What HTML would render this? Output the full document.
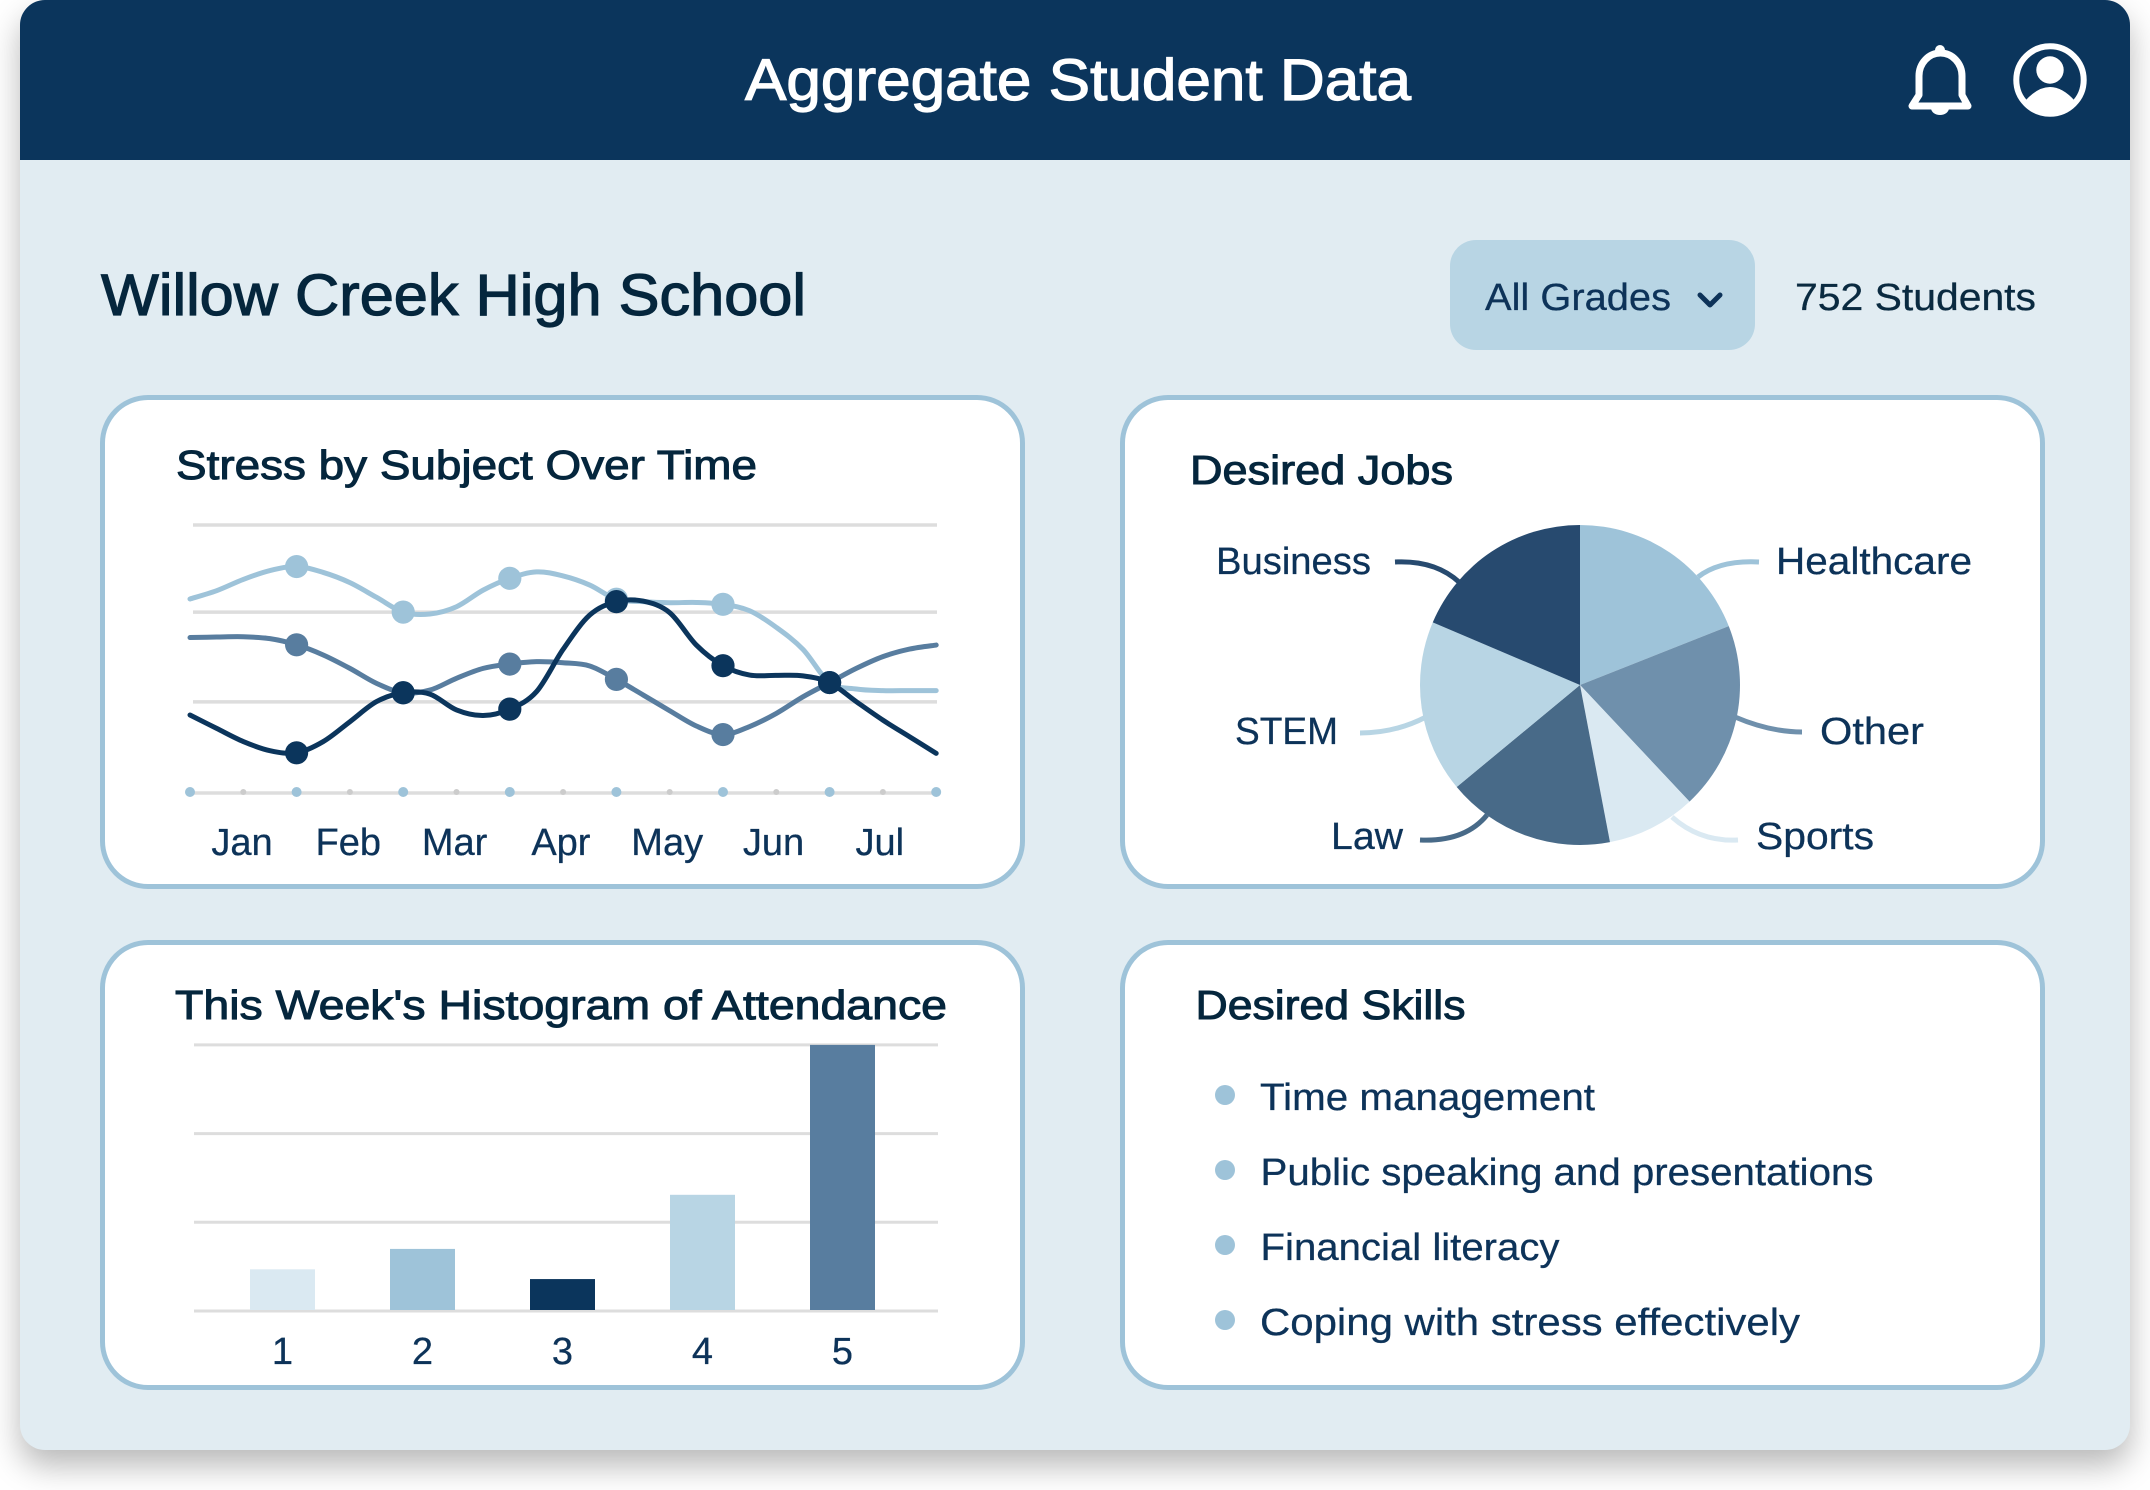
<!DOCTYPE html>
<html lang="en">
<head>
<meta charset="utf-8">
<title>Aggregate Student Data</title>
<style>
  html,body{margin:0;padding:0;background:#fff;width:2150px;height:1490px;overflow:hidden;}
  #stage{position:relative;width:2150px;height:1490px;font-family:"Liberation Sans",sans-serif;}
  .box{position:absolute;box-sizing:border-box;}
  #panel{left:20px;top:0;width:2110px;height:1450px;background:#E1ECF2;border-radius:25px;box-shadow:0 16px 32px rgba(0,0,0,.28);}
  #header{left:20px;top:0;width:2110px;height:160px;background:#0B355C;border-radius:25px 25px 0 0;}
  #grade-btn{left:1450px;top:240px;width:305px;height:110px;background:#B8D5E4;border-radius:26px;}
  .card{background:#fff;border:5px solid #9EC3D9;border-radius:48px;}
  svg{position:absolute;left:0;top:0;}
  text{font-family:"Liberation Sans",sans-serif;}
  .title{font-size:41px;fill:#05263D;stroke:#05263D;stroke-width:1px;}
  .big{font-size:58px;stroke-width:1.2px;}
  .lbl{font-size:38px;fill:#0D3359;stroke:#0D3359;stroke-width:.3px;}
</style>
</head>
<body>
<div id="stage">
  <div class="box" id="panel"></div>
  <div class="box" id="header"></div>
  <div class="box" id="grade-btn"></div>
  <div class="box card" style="left:100px;top:395px;width:925px;height:494px"></div>
  <div class="box card" style="left:1120px;top:395px;width:925px;height:494px"></div>
  <div class="box card" style="left:100px;top:940px;width:925px;height:450px"></div>
  <div class="box card" style="left:1120px;top:940px;width:925px;height:450px"></div>

  <svg id="art" width="2150" height="1490" viewBox="0 0 2150 1490" xmlns="http://www.w3.org/2000/svg">
    <text x="745" y="100" class="title big" style="fill:#fff;stroke:#fff" textLength="666" lengthAdjust="spacingAndGlyphs">Aggregate Student Data</text>

    <g>
      <circle cx="1940" cy="50" r="5" fill="#fff"/>
      <path d="M1912 106 H1968 L1962 95 V76 A21.5 23 0 0 0 1919 76 V95 Z" fill="none" stroke="#fff" stroke-width="7" stroke-linejoin="round"/>
      <path d="M1931 108 H1949 A9 7 0 0 1 1931 108 Z" fill="#fff"/>
    </g>
    <g>
      <circle cx="2050" cy="80" r="33.7" fill="none" stroke="#fff" stroke-width="6"/>
      <circle cx="2050" cy="70" r="13.7" fill="#fff"/>
      <path d="M2025 101 Q2050 73 2075 101 A33.7 33.7 0 0 1 2025 101 Z" fill="#fff"/>
    </g>

    <text x="101" y="315" class="title big" textLength="705" lengthAdjust="spacingAndGlyphs">Willow Creek High School</text>
    <text x="1485" y="310" class="lbl" textLength="186" lengthAdjust="spacingAndGlyphs">All Grades</text>
    <path d="M1700 295 L1710 305 L1720 295" fill="none" stroke="#0D3359" stroke-width="5" stroke-linecap="round" stroke-linejoin="round"/>
    <text x="1795" y="310" class="lbl" style="fill:#0A2A40;stroke:#0A2A40" textLength="241" lengthAdjust="spacingAndGlyphs">752 Students</text>

    <text x="176" y="479" class="title" textLength="581" lengthAdjust="spacingAndGlyphs">Stress by Subject Over Time</text>
    <g id="stress-chart"></g>

    <text x="1190" y="484" class="title" textLength="263" lengthAdjust="spacingAndGlyphs">Desired Jobs</text>
    <g fill="none" stroke-width="5">
      <path d="M1698 577 Q1720 560 1759 562" stroke="#9EC3D9"/>
      <path d="M1735 717 Q1770 732 1802 732" stroke="#6F90AC"/>
      <path d="M1672 817 Q1700 842 1738 840" stroke="#DAE9F2"/>
      <path d="M1487 815 Q1465 842 1420 840" stroke="#486A88"/>
      <path d="M1426 717 Q1395 733 1360 733" stroke="#B8D5E4"/>
      <path d="M1459 582 Q1435 560 1395 562" stroke="#274A6F"/>
    </g>
    <g id="pie-chart"></g>
    <text x="1216" y="574" class="lbl" textLength="155" lengthAdjust="spacingAndGlyphs">Business</text>
    <text x="1776" y="574" class="lbl" textLength="196" lengthAdjust="spacingAndGlyphs">Healthcare</text>
    <text x="1235" y="744" class="lbl" textLength="103" lengthAdjust="spacingAndGlyphs">STEM</text>
    <text x="1820" y="744" class="lbl" textLength="104" lengthAdjust="spacingAndGlyphs">Other</text>
    <text x="1331" y="849" class="lbl" textLength="72" lengthAdjust="spacingAndGlyphs">Law</text>
    <text x="1756" y="849" class="lbl" textLength="118" lengthAdjust="spacingAndGlyphs">Sports</text>

    <text x="175" y="1019" class="title" textLength="772" lengthAdjust="spacingAndGlyphs">This Week's Histogram of Attendance</text>
    <g id="bar-chart"></g>

    <text x="1195.500" y="1019" class="title" textLength="270" lengthAdjust="spacingAndGlyphs">Desired Skills</text>
    <g>
      <circle cx="1225" cy="1095" r="10" fill="#9EC3D9"/>
      <text x="1260" y="1110" class="lbl" textLength="335" lengthAdjust="spacingAndGlyphs">Time management</text>
      <circle cx="1225" cy="1170" r="10" fill="#9EC3D9"/>
      <text x="1260.500" y="1185" class="lbl" textLength="613" lengthAdjust="spacingAndGlyphs">Public speaking and presentations</text>
      <circle cx="1225" cy="1245" r="10" fill="#9EC3D9"/>
      <text x="1260.500" y="1260" class="lbl" textLength="299" lengthAdjust="spacingAndGlyphs">Financial literacy</text>
      <circle cx="1225" cy="1320" r="10" fill="#9EC3D9"/>
      <text x="1260" y="1335" class="lbl" textLength="540" lengthAdjust="spacingAndGlyphs">Coping with stress effectively</text>
    </g>
  </svg>
</div>

<script>
// ---------- Stress chart data: 29 readings per series, four per month ----------
const months = ['Jan','Feb','Mar','Apr','May','Jun','Jul'];
const stressGridTicks = [0, 34, 67.5, 100];
const stressLight = [72.4,75.5,79.7,83.0,84.5,82.3,78.5,73.0,67.5,66.8,69.5,75.7,80.1,82.5,81.0,77.6,72.3,71.4,71.0,71.1,70.4,68.0,61.8,53.6,41.2,38.8,38.2,38.2,38.2];
const stressMid   = [58.0,58.2,58.3,57.6,55.3,51.5,46.5,40.9,37.4,38.4,42.8,46.5,48.1,49.0,48.6,47.4,42.4,36.6,30.7,25.0,21.8,24.8,29.7,35.9,41.2,46.5,50.9,53.7,55.2];
const stressDark  = [29.1,24.1,19.2,15.8,15.0,19.2,26.6,34.1,37.4,36.9,31.0,28.9,31.3,37.8,53.6,66.4,71.4,71.6,67.3,55.2,47.5,44.0,43.9,43.7,41.2,34.1,27.2,21.0,14.8];
// ---------- Pie data (percent, clockwise from 12 o'clock) ----------
const jobNames = ['Healthcare','Other','Sports','Law','STEM','Business'];
const jobShares = [19,19,9,17,17.4,18.6];
// ---------- Histogram data ----------
const attendanceBins = ['1','2','3','4','5'];
const attendanceValues = [4.7,7.0,3.6,13.1,30];
const attendanceGridTicks = [0,10,20,30];

const SVGNS = 'http://www.w3.org/2000/svg';
function mk(tag, attrs, parent){
  const el = document.createElementNS(SVGNS, tag);
  for (const k in attrs) el.setAttribute(k, attrs[k]);
  parent.appendChild(el);
  return el;
}

// ---- line chart ----
(function(){
  const g = document.getElementById('stress-chart');
  const xAt = k => 190 + 26.65 * k;
  const yAt = v => 793 - 2.68 * v;

  stressGridTicks.forEach(t => {
    const l = mk('line', {x1:193, x2:937, y1:yAt(t), y2:yAt(t), stroke:'#DDDDDD', 'stroke-width':3.5}, g);
    
    
  });

  for (let i = 0; i <= 28; i += 2) {
    const major = i % 4 === 0;
    const c = mk('circle', {cx:xAt(i), cy:792, r:major ? 5 : 3, fill:major ? '#9EC3D9' : '#CCCCCC'}, g);
    
    
  }

  function smooth(vals){
    const p = vals.map((v,i) => [xAt(i), yAt(v)]);
    let d = 'M' + p[0][0] + ' ' + p[0][1];
    for (let i = 0; i < p.length - 1; i++) {
      const p0 = p[Math.max(0,i-1)], p1 = p[i], p2 = p[i+1], p3 = p[Math.min(p.length-1,i+2)];
      const c1x = p1[0] + (p2[0]-p0[0])/6, c1y = p1[1] + (p2[1]-p0[1])/6;
      const c2x = p2[0] - (p3[0]-p1[0])/6, c2y = p2[1] - (p3[1]-p1[1])/6;
      d += ' C' + c1x + ' ' + c1y + ' ' + c2x + ' ' + c2y + ' ' + p2[0] + ' ' + p2[1];
    }
    return d;
  }

  function drawSeries(vals, color, width, nm){
    const path = mk('path', {d:smooth(vals), fill:'none', stroke:color, 'stroke-width':width, 'stroke-linecap':'round'}, g);
    
    
    for (let i = 4; i <= 24; i += 4) {
      const c = mk('circle', {cx:xAt(i), cy:yAt(vals[i]), r:11.6, fill:color}, g);
      
      
    }
  }
  drawSeries(stressLight, '#9EC3D9', 5, 'light-series');
  drawSeries(stressMid, '#587D9F', 5, 'mid-series');
  drawSeries(stressDark, '#0B355C', 5, 'dark-series');

  months.forEach((m,i) => {
    const t = mk('text', {x:242 + 106.3 * i, y:855, 'text-anchor':'middle', class:'lbl'}, g);
    t.textContent = m;
    
    
  });
})();

// ---- pie chart ----
(function(){
  const g = document.getElementById('pie-chart');
  const cx = 1580, cy = 685, r = 160;
  const colors = ['#9EC3D9','#6F90AC','#DAE9F2','#486A88','#B8D5E4','#274A6F'];
  const total = jobShares.reduce((a,b) => a+b, 0);
  const pt = a => [cx + r*Math.sin(a), cy - r*Math.cos(a)];
  let acc = 0;
  jobShares.forEach((v,i) => {
    const a0 = acc/total*2*Math.PI;
    acc += v;
    const a1 = acc/total*2*Math.PI;
    const s = pt(a0), e = pt(a1);
    const large = (a1-a0) > Math.PI ? 1 : 0;
    const p = mk('path', {d:'M'+cx+' '+cy+' L'+s[0]+' '+s[1]+' A'+r+' '+r+' 0 '+large+' 1 '+e[0]+' '+e[1]+' Z', fill:colors[i]}, g);
    
    
  });
})();

// ---- histogram ----
(function(){
  const g = document.getElementById('bar-chart');
  const colors = ['#DAE9F2','#9EC3D9','#0B355C','#B8D5E4','#587D9F'];
  const yAt = v => 1311 - 8.87 * v;
  const xAt = i => 282.5 + 140 * i;
  attendanceGridTicks.forEach(t => {
    const l = mk('line', {x1:194, x2:938, y1:yAt(t), y2:yAt(t), stroke:'#DDDDDD', 'stroke-width':3}, g);
    
    
  });
  attendanceValues.forEach((v,i) => {
    const b = mk('rect', {x:xAt(i)-32.5, y:yAt(v), width:65, height:1310-yAt(v), fill:colors[i]}, g);
    
    
    const t = mk('text', {x:xAt(i), y:1364, 'text-anchor':'middle', class:'lbl'}, g);
    t.textContent = attendanceBins[i];
    
    
  });
})();
</script>
</body>
</html>
